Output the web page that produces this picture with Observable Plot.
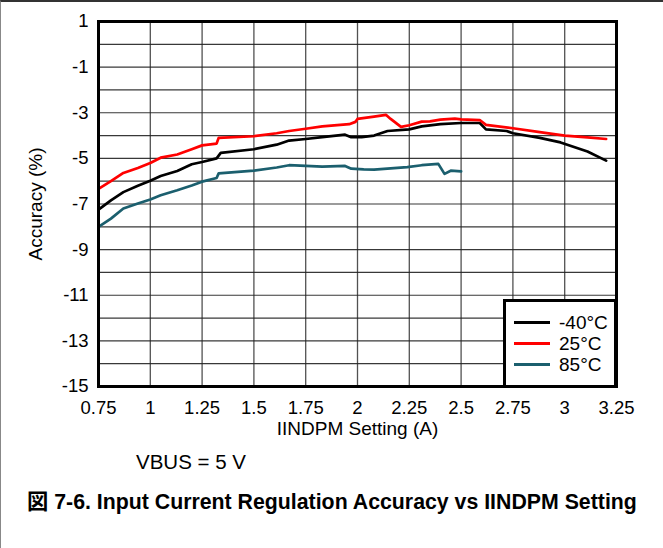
<!DOCTYPE html>
<html>
<head>
<meta charset="utf-8">
<script src="https://cdn.jsdelivr.net/npm/d3@7"></script>
<script src="https://cdn.jsdelivr.net/npm/@observablehq/plot@0.6"></script>
<style>
  html, body { margin: 0; padding: 0; background: #fff; }
  #wrap { position: relative; width: 663px; height: 548px; box-sizing: border-box;
          border-top: 2px solid #333; border-left: 1px solid #888; font-family: "Liberation Sans", Arial, sans-serif; }
  #chart { position: absolute; left: -1px; top: -2px; }
  .note { position: absolute; left: 135px; top: 450px; font-size: 20.5px; line-height: 1; color: #000; white-space: nowrap; }
  .caption { position: absolute; left: 26px; top: 490px; font-size: 21.3px; line-height: 1; font-weight: bold; color: #000; white-space: nowrap;
             font-family: "Liberation Sans", Arial, "Noto Sans CJK JP", sans-serif; }
  .legend { position: absolute; left: 502px; top: 297px; width: 114px; height: 89px; box-sizing: border-box;
            border: 3px solid #000; background: #fff; }
  .legend .sw { position: absolute; left: 8px; width: 36px; height: 3px; }
  .legend .lbl { position: absolute; left: 53px; font-size: 19px; line-height: 20px; height: 20px; white-space: nowrap; }
</style>
</head>
<body>
<div id="wrap">
  <div id="chart"></div>
  <div class="note">VBUS = 5 V</div>
  <div class="caption">図 7-6. Input Current Regulation Accuracy vs IINDPM Setting</div>
  <div class="legend" id="legend"></div>
</div>
<script>
const seriesNames = ["-40°C", "25°C", "85°C"];
const seriesColors = ["#000000", "#ff0000", "#1b5f6e"];

const xM40 = [0.75,0.81,0.87,0.94,1.0,1.05,1.13,1.2,1.25,1.32,1.34,1.5,1.61,1.67,1.75,1.83,1.94,1.97,2.02,2.08,2.145,2.25,2.31,2.4,2.5,2.59,2.62,2.72,2.75,2.88,2.98,3.11,3.2];
const yM40 = [-7.25,-6.84,-6.48,-6.2,-5.98,-5.77,-5.55,-5.26,-5.16,-5.0,-4.76,-4.6,-4.4,-4.22,-4.15,-4.07,-3.96,-4.07,-4.07,-4.0,-3.8,-3.73,-3.6,-3.5,-3.45,-3.45,-3.73,-3.8,-3.9,-4.1,-4.3,-4.7,-5.1];

const x25 = [0.75,0.81,0.87,0.94,1.0,1.05,1.13,1.2,1.25,1.32,1.33,1.5,1.61,1.67,1.75,1.83,1.96,1.99,2.0,2.08,2.137,2.16,2.21,2.25,2.31,2.35,2.4,2.47,2.5,2.59,2.62,2.75,2.88,3.0,3.11,3.2];
const y25 = [-6.34,-6.0,-5.64,-5.42,-5.2,-4.97,-4.83,-4.6,-4.43,-4.35,-4.1,-4.03,-3.9,-3.8,-3.7,-3.6,-3.5,-3.4,-3.27,-3.17,-3.09,-3.27,-3.62,-3.55,-3.39,-3.38,-3.3,-3.26,-3.29,-3.32,-3.53,-3.68,-3.85,-4.0,-4.08,-4.15];

const x85 = [0.75,0.81,0.87,0.94,1.0,1.05,1.13,1.2,1.25,1.32,1.33,1.5,1.61,1.67,1.75,1.83,1.94,1.97,2.03,2.08,2.24,2.31,2.39,2.42,2.45,2.5];
const y85 = [-8.0,-7.64,-7.2,-6.98,-6.8,-6.62,-6.4,-6.19,-6.02,-5.86,-5.66,-5.54,-5.4,-5.3,-5.33,-5.36,-5.33,-5.45,-5.48,-5.49,-5.38,-5.3,-5.24,-5.68,-5.54,-5.57];

const xTicks = [0.75,1,1.25,1.5,1.75,2,2.25,2.5,2.75,3,3.25];
const yTickLabels = [-15,-13,-11,-9,-7,-5,-3,-1,1];
const yGrid = d3.range(-15, 2, 1);

const toRows = (xs, ys, s) => xs.map((x, i) => ({x, y: ys[i], s}));
const data = [
  ...toRows(xM40, yM40, seriesNames[0]),
  ...toRows(x25, y25, seriesNames[1]),
  ...toRows(x85, y85, seriesNames[2])
];

const chart = Plot.plot({
  width: 663,
  height: 447,
  marginLeft: 98,
  marginRight: 47,
  marginTop: 21,
  marginBottom: 61,
  style: { fontFamily: "Liberation Sans, Arial, sans-serif", fontSize: "18.5px", color: "#000", background: "transparent" },
  x: { domain: [0.75, 3.25] },
  y: { domain: [-15, 1] },
  color: { domain: seriesNames, range: seriesColors },
  marks: [
    Plot.gridX(xTicks, { stroke: "#333", strokeOpacity: 0.85, strokeWidth: 1.3 }),
    Plot.gridY(yGrid, { stroke: "#222", strokeOpacity: 0.9, strokeWidth: 1.2 }),
    Plot.line(data, { x: "x", y: "y", z: "s", stroke: "s", strokeWidth: 2.7, curve: "linear" }),
    Plot.axisX(xTicks, { tickSize: 0, tickPadding: 14, tickFormat: d => String(d), fontSize: 18.5,
      label: null }),
    Plot.axisX({ ticks: [], tickSize: 0, fontSize: 19,
      label: "IINDPM Setting (A)", labelAnchor: "center", labelArrow: "none", labelOffset: 48 }),
    Plot.axisY(yTickLabels, { tickSize: 0, tickPadding: 10, tickFormat: d => String(d), fontSize: 18.5,
      label: null }),
    Plot.axisY({ ticks: [], tickSize: 0, fontSize: 19,
      label: "Accuracy (%)", labelAnchor: "center", labelArrow: "none", labelOffset: 70 }),
    Plot.frame({ stroke: "#000", strokeWidth: 3 })
  ]
});
document.getElementById("chart").appendChild(chart);

const legend = document.getElementById("legend");
seriesNames.forEach((name, i) => {
  const cy = 20.5 + i * 21.2; // row centre inside legend box
  const sw = document.createElement("div");
  sw.className = "sw";
  sw.style.top = (cy - 1.5) + "px";
  sw.style.background = seriesColors[i];
  const lbl = document.createElement("div");
  lbl.className = "lbl";
  lbl.style.top = (cy - 10) + "px";
  lbl.textContent = name;
  legend.appendChild(sw);
  legend.appendChild(lbl);
});
</script>
</body>
</html>
